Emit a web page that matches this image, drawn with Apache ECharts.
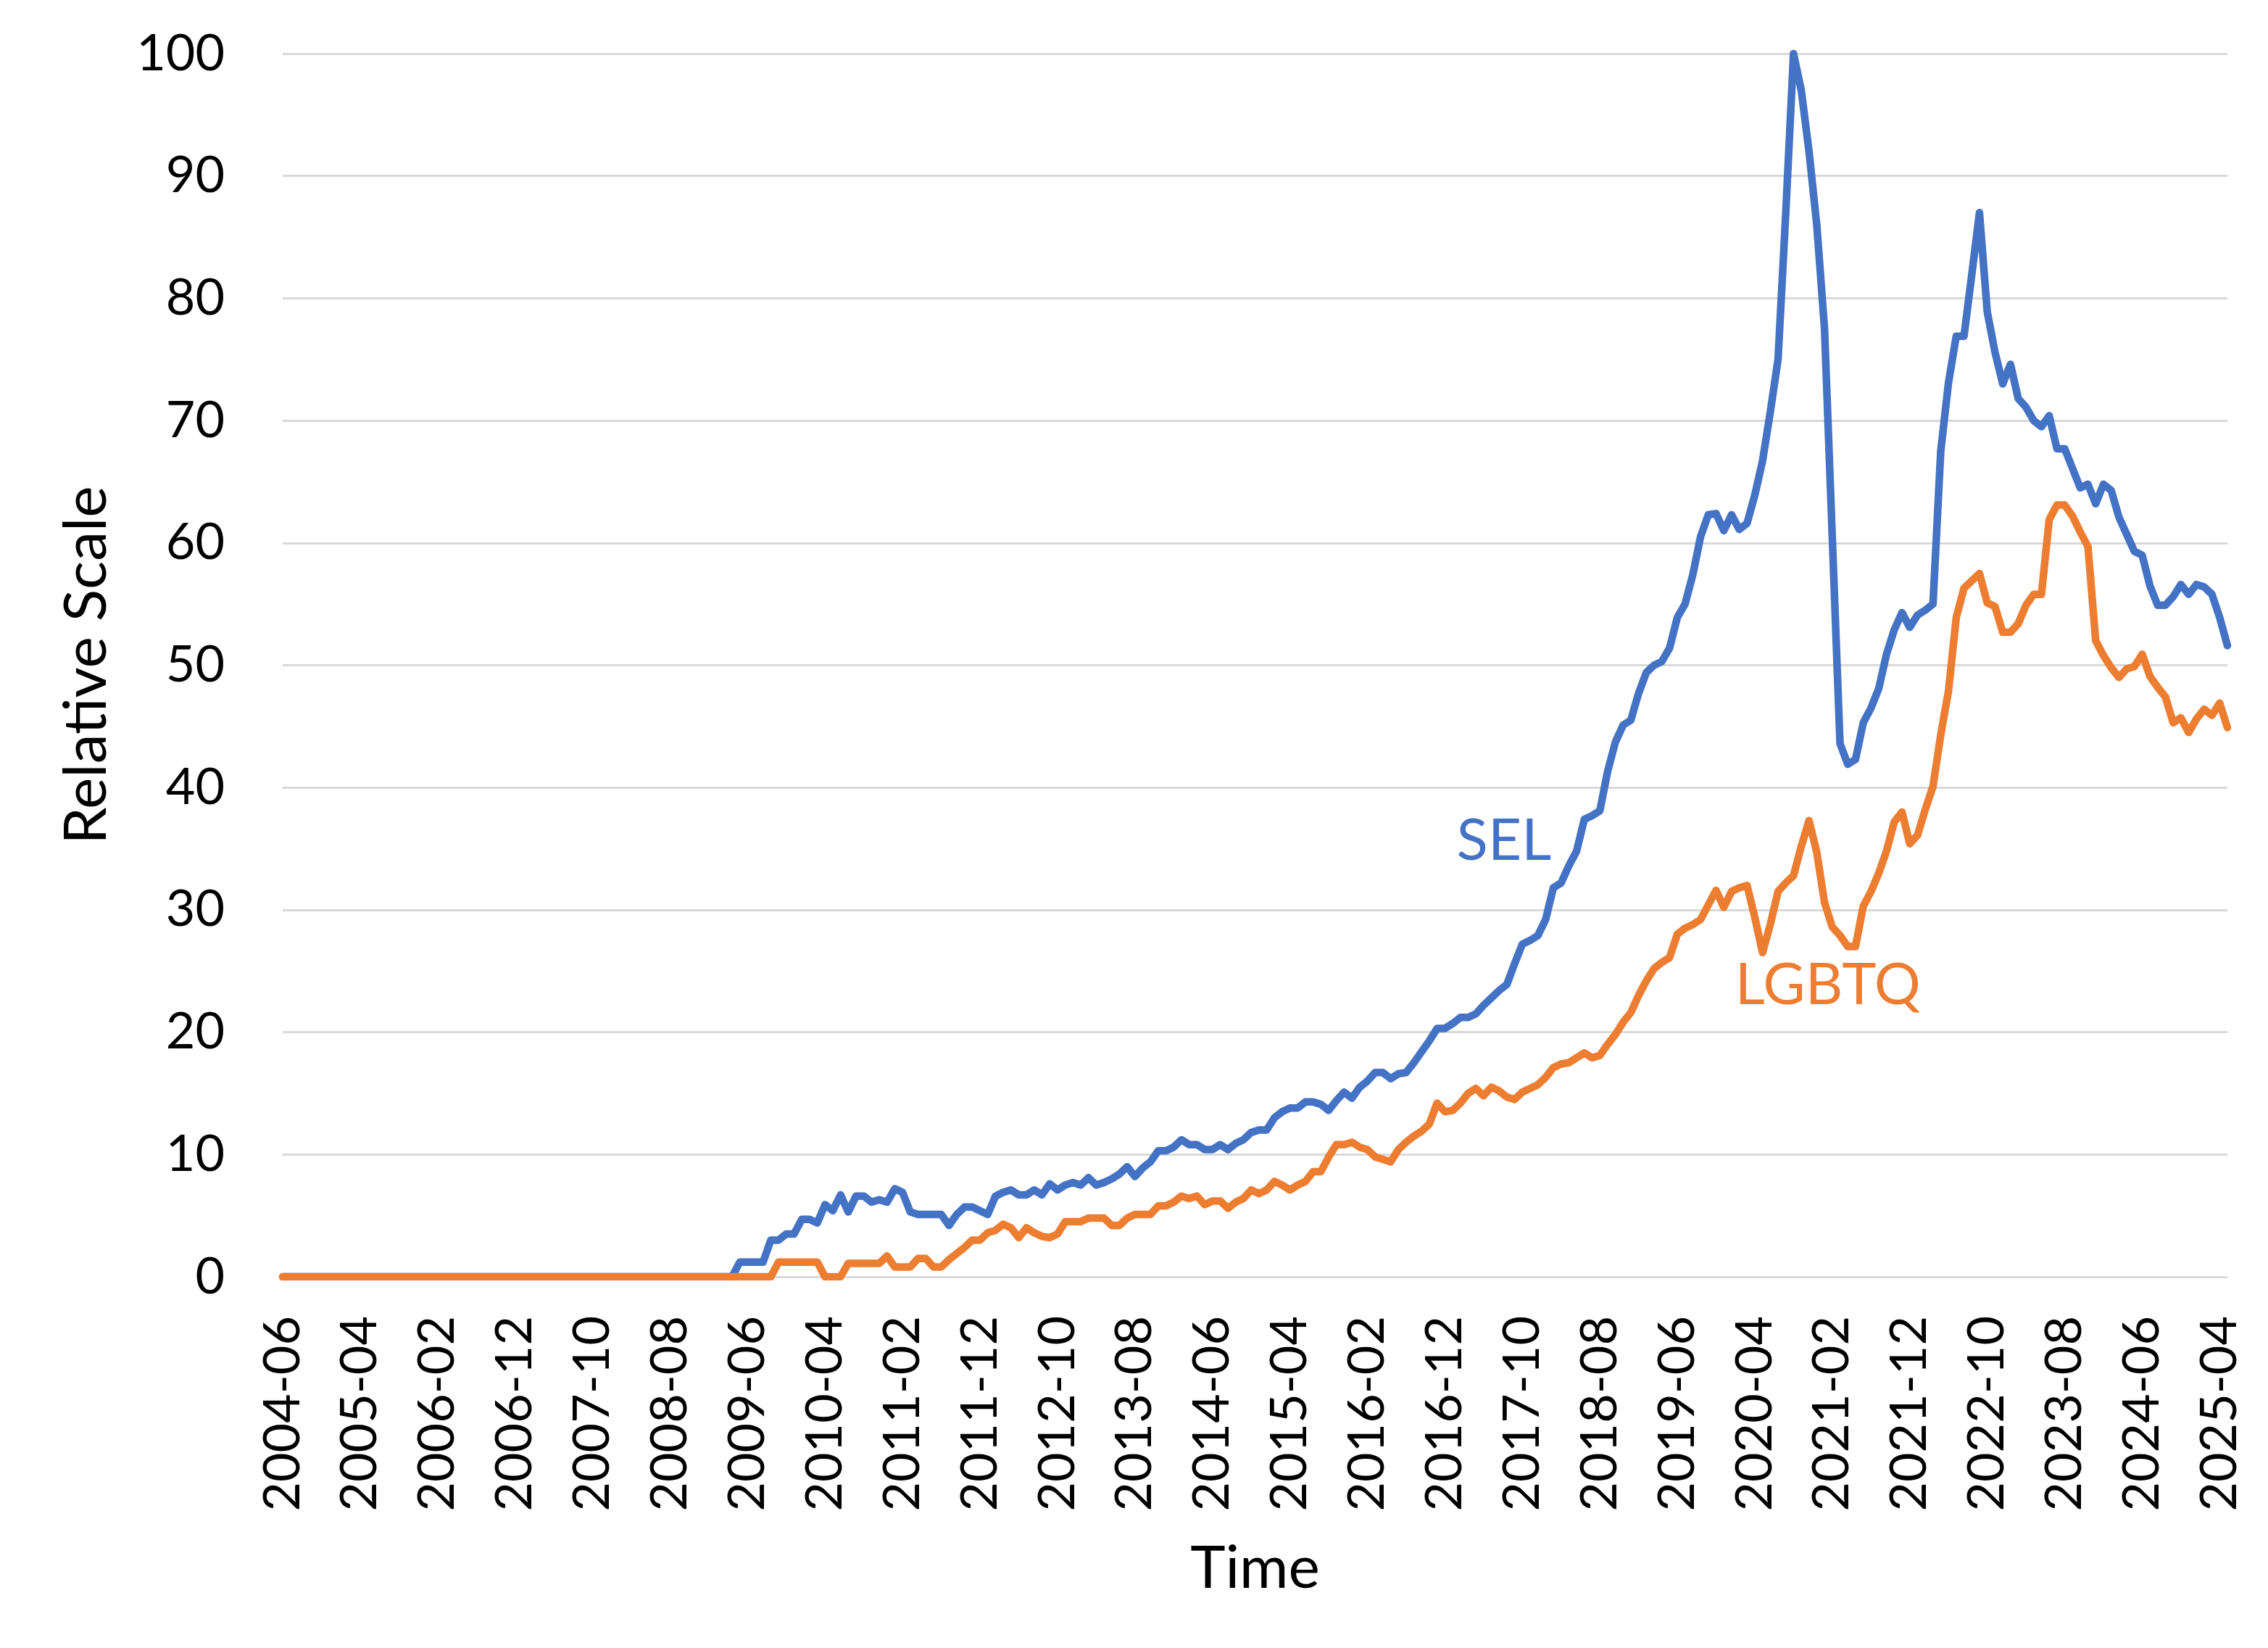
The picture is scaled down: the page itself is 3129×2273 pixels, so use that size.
<!DOCTYPE html>
<html>
<head>
<meta charset="utf-8">
<style>
  html, body { margin: 0; padding: 0; background: #ffffff; }
  #chart { width: 3129px; height: 2273px; }
</style>
<script src="https://cdn.jsdelivr.net/npm/echarts@6/dist/echarts.min.js"></script>
</head>
<body>
<div id="chart"></div>
<script>
// ---- data ----
var startYear = 2004, startMonth = 6, monthCount = 252; // 2004-06 .. 2025-05
var categories = [];
for (var i = 0; i < monthCount; i++) {
  var m = startMonth - 1 + i;
  var y = startYear + Math.floor(m / 12);
  var mm = (m % 12) + 1;
  categories.push(y + '-' + (mm < 10 ? '0' + mm : '' + mm));
}

var yTicks = [0, 10, 20, 30, 40, 50, 60, 70, 80, 90, 100];

var selValues = [
  0,0,0,0,0,0,0,0,0,0, 0,0,0,0,0,0,0,0,0,0, 0,0,0,0,0,0,0,0,0,0,
  0,0,0,0,0,0,0,0,0,0, 0,0,0,0,0,0,0,0,0,0, 0,0,0,0,0,0,0,0,0,
  1.2, 1.2, 1.2, 1.2, 3.0, 3.0, 3.5, 3.5, 4.7, 4.7,
  4.4, 5.9, 5.4, 6.7, 5.3, 6.6, 6.6, 6.1, 6.3, 6.1,
  7.2, 6.9, 5.3, 5.1, 5.1, 5.1, 5.1, 4.2, 5.1, 5.7,
  5.7, 5.4, 5.1, 6.6, 6.9, 7.1, 6.7, 6.7, 7.1, 6.7,
  7.6, 7.1, 7.5, 7.7, 7.5, 8.1, 7.5, 7.7, 8.0, 8.4,
  9.0, 8.2, 8.9, 9.4, 10.3, 10.3, 10.6, 11.2, 10.8, 10.8,
  10.4, 10.4, 10.8, 10.4, 10.9, 11.2, 11.8, 12.0, 12.0, 13.0,
  13.5, 13.8, 13.8, 14.3, 14.3, 14.1, 13.6, 14.4, 15.1, 14.6,
  15.5, 16.0, 16.7, 16.7, 16.2, 16.6, 16.7, 17.5, 18.4, 19.3,
  20.3, 20.3, 20.7, 21.2, 21.2, 21.5, 22.2, 22.8, 23.4, 23.9,
  25.6, 27.2, 27.5, 27.9, 29.2, 31.8, 32.2, 33.6, 34.8, 37.4,
  37.7, 38.1, 41.3, 43.7, 45.1, 45.5, 47.7, 49.4, 50.0, 50.3,
  51.4, 53.9, 55.0, 57.4, 60.5, 62.3, 62.4, 61.0, 62.3, 61.1,
  61.6, 63.9, 66.7, 70.7, 75.0, 87.0, 100, 97.0, 92.0, 86.0,
  77.5, 60.5, 43.6, 41.9, 42.3, 45.3, 46.5, 48.1, 50.9, 52.9,
  54.3, 53.1, 54.1, 54.5, 55.0, 67.5, 73.1, 76.9, 76.9, 81.9,
  87.0, 78.9, 75.6, 73.0, 74.6, 71.8, 71.1, 70.0, 69.5, 70.4,
  67.7, 67.7, 66.1, 64.5, 64.8, 63.2, 64.8, 64.3, 62.1, 60.7,
  59.3, 59.0, 56.5, 54.9, 54.9, 55.6, 56.6, 55.8, 56.6, 56.4,
  55.8, 53.9, 51.6
];

var lgbtqValues = [
  0,0,0,0,0,0,0,0,0,0, 0,0,0,0,0,0,0,0,0,0, 0,0,0,0,0,0,0,0,0,0,
  0,0,0,0,0,0,0,0,0,0, 0,0,0,0,0,0,0,0,0,0, 0,0,0,0,0,0,0,0,0,0,
  0,0,0,0,
  1.2, 1.2, 1.2, 1.2, 1.2, 1.2, 0, 0, 0, 1.1,
  1.1, 1.1, 1.1, 1.1, 1.7, 0.8, 0.8, 0.8, 1.5, 1.5,
  0.8, 0.8, 1.4, 1.9, 2.4, 3.0, 3.0, 3.6, 3.8, 4.3,
  4.0, 3.2, 4.0, 3.6, 3.3, 3.2, 3.5, 4.5, 4.5, 4.5,
  4.8, 4.8, 4.8, 4.2, 4.2, 4.8, 5.1, 5.1, 5.1, 5.8,
  5.8, 6.1, 6.6, 6.4, 6.6, 5.9, 6.2, 6.2, 5.6, 6.1,
  6.4, 7.1, 6.8, 7.1, 7.8, 7.5, 7.1, 7.5, 7.8, 8.6,
  8.6, 9.8, 10.8, 10.8, 11.0, 10.6, 10.4, 9.8, 9.6, 9.4,
  10.4, 11.0, 11.5, 11.9, 12.5, 14.2, 13.5, 13.6, 14.2, 15.0,
  15.4, 14.8, 15.5, 15.2, 14.7, 14.5, 15.1, 15.4, 15.7, 16.3,
  17.1, 17.4, 17.5, 17.9, 18.3, 17.9, 18.1, 19.0, 19.8, 20.8,
  21.6, 23.0, 24.2, 25.2, 25.7, 26.1, 28.0, 28.5, 28.8, 29.2,
  30.4, 31.6, 30.2, 31.5, 31.8, 32.0, 29.4, 26.5, 28.8, 31.5,
  32.2, 32.8, 35.2, 37.3, 34.7, 30.6, 28.6, 27.9, 27.0, 27.0,
  30.3, 31.5, 33.0, 34.8, 37.2, 38.0, 35.4, 36.1, 38.2, 40.1,
  44.3, 47.9, 53.9, 56.3, 56.9, 57.5, 55.1, 54.8, 52.7, 52.7,
  53.4, 54.9, 55.8, 55.8, 61.9, 63.1, 63.1, 62.2, 60.9, 59.7,
  52.0, 50.8, 49.8, 49.0, 49.7, 49.9, 50.9, 49.1, 48.2, 47.4,
  45.3, 45.7, 44.5, 45.6, 46.4, 45.9, 46.9, 44.9
];

var seriesNames = ['SEL', 'LGBTQ'];
var seriesColors = ['#4472C4', '#ED7D31'];
// in-chart series labels: [category index, value]
var selLabelAt = [158, 35.6];
var lgbtqLabelAt = [200, 23.8];

// ---- chart ----
var FONT = 'Lato, "Open Sans", "Noto Sans", sans-serif';
var chart = echarts.init(document.getElementById('chart'), null, { renderer: 'canvas', devicePixelRatio: 1 });

function seriesLabel(text, color, at, offset) {
  return {
    symbol: 'circle',
    symbolSize: 0.01,
    itemStyle: { color: 'rgba(0,0,0,0)' },
    label: {
      show: true, position: 'inside', formatter: text,
      color: color, fontSize: 80, fontFamily: FONT, offset: offset
    },
    data: [{ coord: at }]
  };
}

chart.setOption({
  animation: false,
  backgroundColor: '#ffffff',
  grid: { left: 390, right: 56, top: 74, bottom: 512, containLabel: false },
  xAxis: {
    type: 'category',
    data: categories,
    boundaryGap: false,
    axisLine: { show: false },
    axisTick: { show: false },
    axisLabel: {
      interval: 9, rotate: 90, margin: 54,
      fontSize: 70, fontFamily: FONT, color: '#000000'
    },
    splitLine: { show: false },
    name: 'Time',
    nameLocation: 'middle',
    nameGap: 362,
    nameTextStyle: { fontSize: 82, fontFamily: FONT, color: '#000000' }
  },
  yAxis: {
    type: 'value',
    min: yTicks[0], max: yTicks[yTicks.length - 1], interval: 10,
    axisLine: { show: false },
    axisTick: { show: false },
    axisLabel: { margin: 80, fontSize: 70, fontFamily: FONT, color: '#000000' },
    splitLine: { show: true, lineStyle: { color: '#D9D9D9', width: 3 } },
    name: 'Relative Scale',
    nameLocation: 'middle',
    nameGap: 229,
    nameTextStyle: { fontSize: 82, fontFamily: FONT, color: '#000000' }
  },
  series: [
    {
      name: seriesNames[0], type: 'line', data: selValues,
      showSymbol: false, symbol: 'none', smooth: false,
      lineStyle: { color: seriesColors[0], width: 10.5, cap: 'round', join: 'round' },
      itemStyle: { color: seriesColors[0] },
      z: 2,
      markPoint: seriesLabel('SEL', seriesColors[0], selLabelAt, [-4, 0])
    },
    {
      name: seriesNames[1], type: 'line', data: lgbtqValues,
      showSymbol: false, symbol: 'none', smooth: false,
      lineStyle: { color: seriesColors[1], width: 10.5, cap: 'round', join: 'round' },
      itemStyle: { color: seriesColors[1] },
      z: 3,
      markPoint: seriesLabel('LGBTQ', seriesColors[1], lgbtqLabelAt, [-6, 0])
    }
  ]
});
</script>
</body>
</html>
